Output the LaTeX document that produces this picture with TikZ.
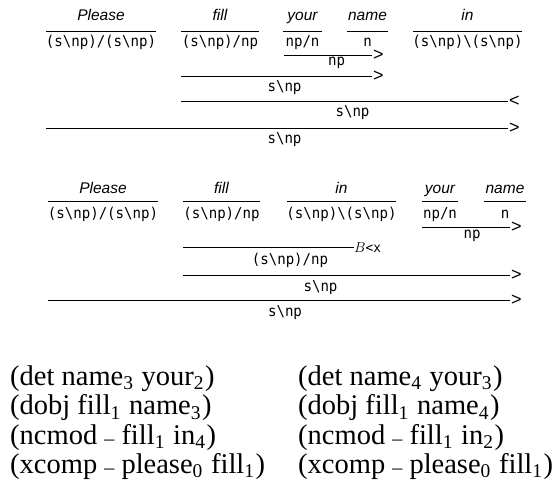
\documentclass[tikz,border=0pt]{standalone}
\usepackage{fontspec}
\newfontfamily\wordfont{Liberation Sans}
\newfontfamily\catfont{DejaVu Sans Mono}[FakeStretch=0.94]
\newfontfamily\symfont{Liberation Sans}
\newfontfamily\depfont{Liberation Serif}
\newcommand{\bs}{\textbackslash}
\newcommand{\sbx}[1]{\raisebox{-0.17em}{\fontsize{19.5}{20}\selectfont #1}\kern1.5pt\relax}
\newcommand{\usc}{\raisebox{0.2em}{\fontsize{20}{20}\selectfont\_}}
\tikzset{
  word/.style={font=\wordfont\itshape\fontsize{15.5}{17}\selectfont, anchor=base, inner sep=0pt},
  cat/.style={font=\catfont\fontsize{15}{17}\selectfont, anchor=base, inner sep=0pt},
  rulesym/.style={font=\symfont\fontsize{18}{20}\selectfont, anchor=west, inner sep=0pt, xshift=1pt},
  bx/.style={font=\catfont\fontsize{13}{15}\selectfont, anchor=west, inner sep=0pt},
  dep/.style={font=\depfont\fontsize{28.5}{30}\selectfont, anchor=base west, inner sep=0pt},
  bar/.style={line width=0.9pt}
}
\begin{document}
\begin{tikzpicture}[x=1pt,y=-1pt]
\useasboundingbox (0,0) rectangle (557,498);

% ---------- first derivation ----------
\node[word] (aw1) at (101,20.5) {Please};
\node[word] (aw2) at (220,20.5) {fill};
\node[word] (aw3) at (302.5,20.5) {your};
\node[word] (aw4) at (367.5,20.5) {name};
\node[word] (aw5) at (467.5,20.5) {in};
\coordinate (al1a) at (46,31);  \coordinate (al1b) at (156,31);
\coordinate (al2a) at (181,31); \coordinate (al2b) at (259,31);
\coordinate (al3a) at (283,31); \coordinate (al3b) at (322,31);
\coordinate (al4a) at (347,31); \coordinate (al4b) at (388,31);
\coordinate (al5a) at (413,31); \coordinate (al5b) at (522,31);
\draw[bar] (al1a) -- (al1b);
\draw[bar] (al2a) -- (al2b);
\draw[bar] (al3a) -- (al3b);
\draw[bar] (al4a) -- (al4b);
\draw[bar] (al5a) -- (al5b);
\node[cat] (ac1) at (101,46.5) {(s\bs np)/(s\bs np)};
\node[cat] (ac2) at (220,46.5) {(s\bs np)/np};
\node[cat] (ac3) at (302.5,46.5) {np/n};
\node[cat] (ac4) at (367.5,46.5) {n};
\node[cat] (ac5) at (467.5,46.5) {(s\bs np)\bs(s\bs np)};

\coordinate (ar1a) at (284,55); \coordinate (ar1b) at (372,55);
\draw[bar] (ar1a) -- (ar1b);
\node[rulesym] (ar1s) at (ar1b) {>};
\node[cat] (ar1c) at (336.5,65) {np};

\coordinate (ar2a) at (181,76); \coordinate (ar2b) at (372,76);
\draw[bar] (ar2a) -- (ar2b);
\node[rulesym] (ar2s) at (ar2b) {>};
\node[cat] (ar2c) at (284.5,91) {s\bs np};

\coordinate (ar3a) at (181,101.5); \coordinate (ar3b) at (508,101.5);
\draw[bar] (ar3a) -- (ar3b);
\node[rulesym] (ar3s) at (ar3b) {<};
\node[cat] (ar3c) at (352.5,116.5) {s\bs np};

\coordinate (ar4a) at (46,128); \coordinate (ar4b) at (508,128);
\draw[bar] (ar4a) -- (ar4b);
\node[rulesym] (ar4s) at (ar4b) {>};
\node[cat] (ar4c) at (284.5,143) {s\bs np};

% ---------- second derivation ----------
\node[word] (bw1) at (103,193) {Please};
\node[word] (bw2) at (221.5,193) {fill};
\node[word] (bw3) at (341.5,193) {in};
\node[word] (bw4) at (440,193) {your};
\node[word] (bw5) at (505,193) {name};
\coordinate (bl1a) at (48,201.7);  \coordinate (bl1b) at (158,201.7);
\coordinate (bl2a) at (183,201.7); \coordinate (bl2b) at (260,201.7);
\coordinate (bl3a) at (287,201.7); \coordinate (bl3b) at (396,201.7);
\coordinate (bl4a) at (422,201.7); \coordinate (bl4b) at (458,201.7);
\coordinate (bl5a) at (484,201.7); \coordinate (bl5b) at (526,201.7);
\draw[bar] (bl1a) -- (bl1b);
\draw[bar] (bl2a) -- (bl2b);
\draw[bar] (bl3a) -- (bl3b);
\draw[bar] (bl4a) -- (bl4b);
\draw[bar] (bl5a) -- (bl5b);
\node[cat] (bc1) at (103,218.5) {(s\bs np)/(s\bs np)};
\node[cat] (bc2) at (221.5,218.5) {(s\bs np)/np};
\node[cat] (bc3) at (341.5,218.5) {(s\bs np)\bs(s\bs np)};
\node[cat] (bc4) at (440,218.5) {np/n};
\node[cat] (bc5) at (505,218.5) {n};

\coordinate (br1a) at (422,227.7); \coordinate (br1b) at (510,227.7);
\draw[bar] (br1a) -- (br1b);
\node[rulesym] (br1s) at (br1b) {>};
\node[cat] (br1c) at (472,238.5) {np};

\coordinate (br2a) at (183,247.3); \coordinate (br2b) at (354,247.3);
\draw[bar] (br2a) -- (br2b);
\node[bx] (br2s) at (br2b) {\fontsize{13.5}{15}\selectfont$B$<x};
\node[cat] (br2c) at (290,264) {(s\bs np)/np};

\coordinate (br3a) at (183,275); \coordinate (br3b) at (510,275);
\draw[bar] (br3a) -- (br3b);
\node[rulesym] (br3s) at (br3b) {>};
\node[cat] (br3c) at (320.5,291) {s\bs np};

\coordinate (br4a) at (48,300.7); \coordinate (br4b) at (510,300.7);
\draw[bar] (br4a) -- (br4b);
\node[rulesym] (br4s) at (br4b) {>};
\node[cat] (br4c) at (285,316) {s\bs np};

% ---------- dependencies ----------
\node[dep] (d1) at (10,385) {(det name\sbx{3} your\sbx{2})};
\node[dep] (d2) at (10,414.5) {(dobj fill\sbx{1} name\sbx{3})};
\node[dep] (d3) at (10,444) {(ncmod \usc{} fill\sbx{1} in\sbx{4})};
\node[dep] (d4) at (10,473) {(xcomp \usc{} please\sbx{0} fill\sbx{1})};
\node[dep] (e1) at (298,385) {(det name\sbx{4} your\sbx{3})};
\node[dep] (e2) at (298,414.5) {(dobj fill\sbx{1} name\sbx{4})};
\node[dep] (e3) at (298,444) {(ncmod \usc{} fill\sbx{1} in\sbx{2})};
\node[dep] (e4) at (298,473) {(xcomp \usc{} please\sbx{0} fill\sbx{1})};
\end{tikzpicture}
\end{document}
